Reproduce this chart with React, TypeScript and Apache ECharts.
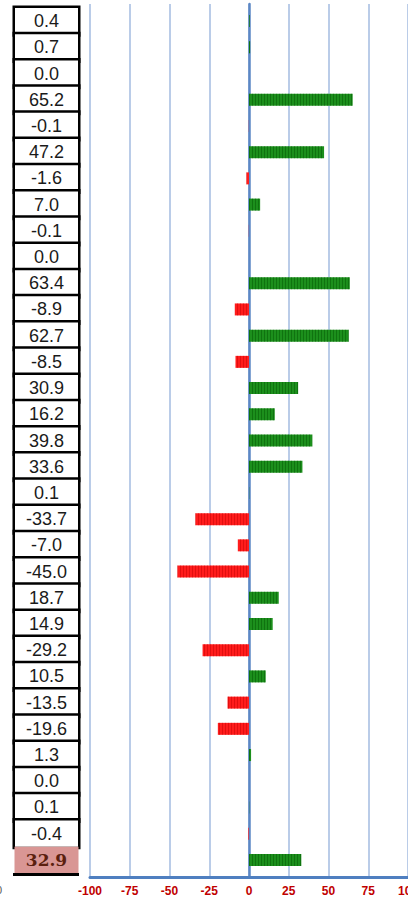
import { useEffect, useRef } from "react";
import * as echarts from "echarts";

const rowValues = [
  0.4, 0.7, 0.0, 65.2, -0.1, 47.2, -1.6, 7.0, -0.1, 0.0, 63.4, -8.9, 62.7, -8.5,
  30.9, 16.2, 39.8, 33.6, 0.1, -33.7, -7.0, -45.0, 18.7, 14.9, -29.2, 10.5,
  -13.5, -19.6, 1.3, 0.0, 0.1, -0.4,
];
const totalValue = 32.9;
const allValues = [...rowValues, totalValue];
const rowLabels = allValues.map((v) => v.toFixed(1));
const xMin = -100;
const xMax = 100;
const xStep = 25;

const GREEN = "#1c8f1c";
const RED = "#ff1c1c";

export default function App() {
  const ref = useRef<HTMLDivElement>(null);
  useEffect(() => {
    if (!ref.current) return;
    const chart = echarts.init(ref.current, undefined, { renderer: "svg" });
    const lastIdx = allValues.length - 1;
    const barData = allValues.map((v) => ({
      value: v,
      itemStyle: {
        color: v >= 0 ? GREEN : RED,
        decal: {
          symbol: "rect",
          symbolSize: 1,
          dashArrayX: [1, 2],
          dashArrayY: [6, 0],
          color: v >= 0 ? "rgba(0,80,0,0.45)" : "rgba(190,0,0,0.45)",
        },
      },
    }));
    chart.setOption({
      animation: false,
      grid: [
        { left: 90, width: 318, top: 4, bottom: 21, outerBoundsMode: "none", containLabel: false },
        { left: 90, width: 318, top: 8, bottom: 25, outerBoundsMode: "none", containLabel: false },
      ],
      xAxis: [
        {
          gridIndex: 0,
          type: "value",
          min: xMin,
          max: xMax,
          interval: xStep,
          position: "bottom",
          axisLine: {
            onZero: false,
            lineStyle: { color: "#4f7fc0", width: 3 },
          },
          axisTick: { show: false },
          axisLabel: {
            color: "#c00000",
            fontWeight: "bold",
            fontSize: 12,
            fontFamily: "Liberation Sans, Arial",
            margin: 8,
          },
          splitLine: {
            show: true,
            lineStyle: { color: "#a3bbe0", width: 1.5 },
          },
        },
        {
          gridIndex: 1,
          type: "value",
          min: xMin,
          max: xMax,
          show: false,
        },
      ],
      yAxis: [
        {
          gridIndex: 0,
          type: "value",
          min: 0,
          max: 1,
          axisLine: {
            show: true,
            onZero: true,
            lineStyle: { color: "#5b87c5", width: 2.5 },
          },
          axisTick: { show: false },
          axisLabel: { show: false },
          splitLine: { show: false },
        },
        {
          gridIndex: 1,
          type: "category",
          inverse: true,
          data: rowLabels,
          offset: 43.5,
          axisLine: { show: false, onZero: false },
          axisTick: { show: false },
          axisLabel: {
            interval: 0,
            margin: 0,
            align: "center",
            formatter: (val: string, idx: number) =>
              idx === lastIdx ? `{tot|${val}}` : `{cell|${val}}`,
            rich: {
              cell: {
                width: 63,
                height: 26.2,
                lineHeight: 26.2,
                align: "center",
                verticalAlign: "middle",
                backgroundColor: "#ffffff",
                borderColor: "#000000",
                borderWidth: 2.5,
                color: "#1a1a1a",
                fontSize: 18,
                fontFamily: "Liberation Sans, Arial",
              },
              tot: {
                width: 64,
                height: 26.2,
                lineHeight: 26.2,
                align: "center",
                verticalAlign: "middle",
                backgroundColor: "#d99694",
                color: "#5b1f0f",
                fontSize: 17,
                fontWeight: "bold",
                fontFamily: "DejaVu Serif",
              },
            },
          },
          splitLine: { show: false },
        },
      ],
      series: [
        {
          type: "bar",
          xAxisIndex: 1,
          yAxisIndex: 1,
          barWidth: 12,
          data: barData,
          itemStyle: { borderWidth: 0 },
          silent: true,
        },
      ],
      graphic: [
        {
          type: "line",
          shape: { x1: 13, y1: 874.5, x2: 79, y2: 874.5 },
          style: { stroke: "#000", lineWidth: 3 },
        },
        {
          type: "text",
          x: -4,
          y: 884,
          style: {
            text: "0",
            fill: "#555",
            font: "11px Liberation Sans",
          },
        },
      ],
    });
    return () => chart.dispose();
  }, []);
  return (
    <div
      ref={ref}
      style={{ position: "fixed", left: 0, top: 0, width: 408, height: 898, background: "#fff" }}
    />
  );
}
